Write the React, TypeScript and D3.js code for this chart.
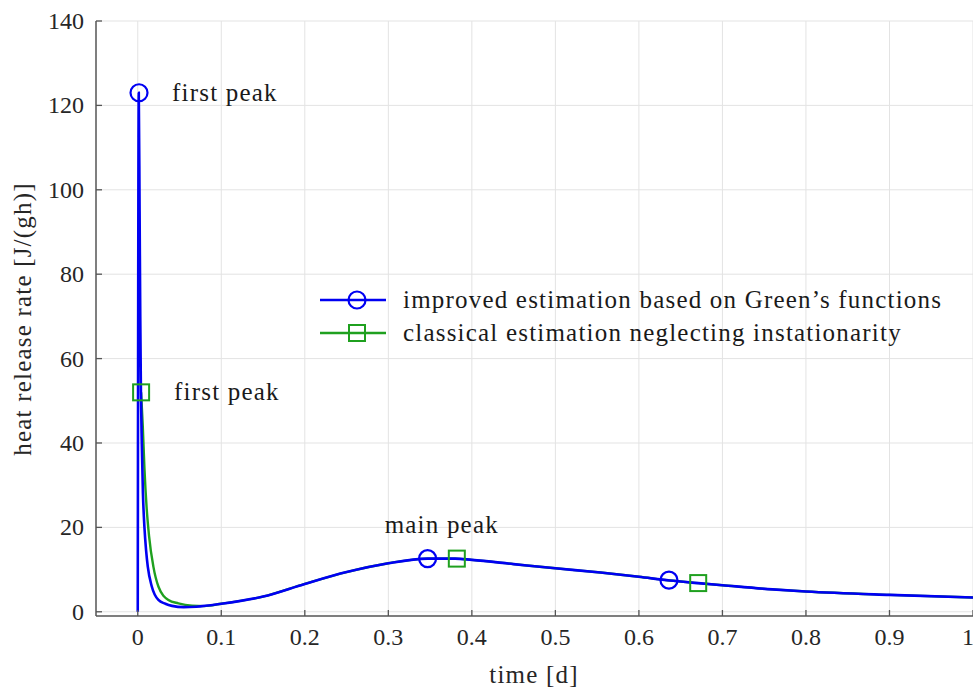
import React from "react";
import * as d3 from "d3";

const blueX = [0, 0.0012, 0.0022, 0.003, 0.0038, 0.0048, 0.0062, 0.008, 0.010, 0.012, 0.0168, 0.0247, 0.033, 0.041, 0.055, 0.07, 0.1, 0.15, 0.2, 0.25, 0.3, 0.347, 0.38, 0.4, 0.45, 0.5, 0.554, 0.6, 0.637, 0.671, 0.7, 0.76, 0.8, 0.9, 1.0];
const blueY = [0, 123, 95, 70, 52, 40, 28, 20, 14.5, 10.7, 6.0, 2.8, 1.9, 1.4, 1.1, 1.2, 1.9, 3.6, 6.6, 9.4, 11.5, 12.6, 12.6, 12.3, 11.3, 10.3, 9.3, 8.3, 7.4, 6.8, 6.3, 5.3, 4.8, 4.0, 3.4];
const greenX = [0.004, 0.006, 0.008, 0.0105, 0.0135, 0.0187, 0.0247, 0.0367, 0.0486, 0.065, 0.08, 0.1, 0.15, 0.2, 0.25, 0.3, 0.347, 0.38, 0.4, 0.45, 0.5, 0.554, 0.6, 0.637, 0.671, 0.7, 0.76, 0.8, 0.9, 1.0];
const greenY = [52, 44, 34, 25, 18, 10.7, 6.0, 2.8, 2.0, 1.45, 1.35, 1.9, 3.6, 6.6, 9.4, 11.5, 12.6, 12.6, 12.3, 11.3, 10.3, 9.3, 8.3, 7.4, 6.8, 6.3, 5.3, 4.8, 4.0, 3.4];
const blueMarkX = [0.0015, 0.347, 0.636];
const blueMarkY = [123, 12.6, 7.5];
const greenMarkX = [0.004, 0.382, 0.671];
const greenMarkY = [52, 12.6, 6.8];
const xTicks = [0, 0.1, 0.2, 0.3, 0.4, 0.5, 0.6, 0.7, 0.8, 0.9, 1];
const yTicks = [0, 20, 40, 60, 80, 100, 120, 140];
const legendLabels = ["improved estimation based on Green\u2019s functions", "classical estimation neglecting instationarity"];
const annotations = [
  { text: "first peak", x: 0.0015, y: 123, anchor: "start" },
  { text: "first peak", x: 0.004, y: 52, anchor: "start" },
  { text: "main peak", x: 0.364, y: 12.6, anchor: "middle" },
];

const W = 973, H = 688;
const BLUE = "#0000f2";
const GREEN = "#1fa01f";
const CSS = "svg.chart text { font-family: 'Liberation Serif', serif; }";

export default function App() {
  const x = d3.scaleLinear().domain([-0.05, 1]).range([96, 973]);
  const y = d3.scaleLinear().domain([-1, 140]).range([616, 21]);
  const line = d3.line<number>().curve(d3.curveMonotoneX);
  const bluePath = line(blueX.map((v, i) => [x(v), y(blueY[i])] as [number, number]));
  const greenPath = line(greenX.map((v, i) => [x(v), y(greenY[i])] as [number, number]));
  const sq = 16;
  return (
    <svg className="chart" width={W} height={H} style={{ position: "absolute", left: 0, top: 0 }} fontFamily="Liberation Serif">
      <style>{CSS}</style>
      {xTicks.map((t) => (
        <line key={"gx" + t} x1={x(t)} x2={x(t)} y1={y(140)} y2={y(-1)} stroke="#e3e3e3" strokeWidth={1} />
      ))}
      {yTicks.map((t) => (
        <line key={"gy" + t} x1={x(-0.05)} x2={W} y1={y(t)} y2={y(t)} stroke="#e3e3e3" strokeWidth={1} />
      ))}
      <path d={greenPath || ""} fill="none" stroke={GREEN} strokeWidth={2.4} />
      <path d={bluePath || ""} fill="none" stroke={BLUE} strokeWidth={2.6} />
      {greenMarkX.map((v, i) => (
        <rect key={"gm" + i} x={x(v) - sq / 2} y={y(greenMarkY[i]) - sq / 2} width={sq} height={sq} fill="none" stroke={GREEN} strokeWidth={2} />
      ))}
      {blueMarkX.map((v, i) => (
        <circle key={"bm" + i} cx={x(v)} cy={y(blueMarkY[i])} r={8.5} fill="none" stroke={BLUE} strokeWidth={2.2} />
      ))}
      <line x1={x(-0.05)} x2={W} y1={y(-1)} y2={y(-1)} stroke="#555" strokeWidth={1.5} />
      <line x1={x(-0.05)} x2={x(-0.05)} y1={y(-1)} y2={y(140)} stroke="#555" strokeWidth={1.5} />
      {xTicks.map((t) => (
        <line key={"xt" + t} x1={x(t)} x2={x(t)} y1={y(-1)} y2={y(-1) - 6} stroke="#555" strokeWidth={1.3} />
      ))}
      {xTicks.map((t) => (
        <text key={"xl" + t} x={t === 1 ? x(t) - 5 : x(t)} y={645} textAnchor="middle" fill="#262626" fontSize={24}>{t === 0 || t === 1 ? String(t) : t.toFixed(1)}</text>
      ))}
      {yTicks.map((t) => (
        <line key={"yt" + t} x1={x(-0.05)} x2={x(-0.05) + 6} y1={y(t)} y2={y(t)} stroke="#555" strokeWidth={1.3} />
      ))}
      {yTicks.map((t) => (
        <text key={"yl" + t} x={84} y={y(t) + 8} textAnchor="end" fill="#262626" fontSize={24}>{t}</text>
      ))}
      <text x={534} y={683} textAnchor="middle" fill="#262626" fontSize={25} letterSpacing={1.2}>time [d]</text>
      <text transform={`translate(31,319) rotate(-90)`} textAnchor="middle" fill="#262626" fontSize={25} letterSpacing={1.2}>heat release rate [J/(gh)]</text>
      {annotations.map((a, i) => (
        <text key={"an" + i} x={a.anchor === "start" ? x(a.x) + 33 : x(a.x)} y={a.anchor === "start" ? y(a.y) + 8 : y(a.y) - 26} textAnchor={a.anchor as any} fill="#1a1a1a" fontSize={25} letterSpacing={1.2}>{a.text}</text>
      ))}
      {legendLabels.map((lab, i) => {
        const ly = 300 + i * 33;
        return (
          <g key={"lg" + i}>
            <line x1={320} x2={386} y1={ly} y2={ly} stroke={i === 0 ? BLUE : GREEN} strokeWidth={2.4} />
            {i === 0 ? (
              <circle cx={357} cy={ly} r={8.5} fill="none" stroke={BLUE} strokeWidth={2.2} />
            ) : (
              <rect x={357 - sq / 2} y={ly - sq / 2} width={sq} height={sq} fill="none" stroke={GREEN} strokeWidth={2} />
            )}
            <text x={403} y={ly + 8} fill="#1a1a1a" fontSize={25} letterSpacing={1.2}>{lab}</text>
          </g>
        );
      })}
    </svg>
  );
}
